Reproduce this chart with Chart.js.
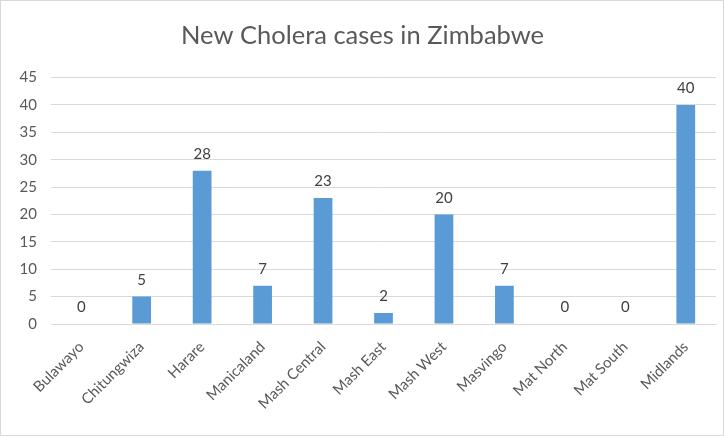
<!DOCTYPE html>
<html>
<head>
<meta charset="utf-8">
<script src="https://cdn.jsdelivr.net/npm/chart.js@4.4.0/dist/chart.umd.min.js"></script>
<style>
    html, body { margin: 0; padding: 0; background: #fff; }
    .frame {
        width: 722px;
        height: 434px;
        border: 1px solid #d9d9d9;
        position: relative;
    }
</style>
</head>
<body>
<div class="frame">
    <canvas id="choleraChart" width="722" height="434"></canvas>
</div>
<script>
    // Chart data
    const provinces = ['Bulawayo', 'Chitungwiza', 'Harare', 'Manicaland', 'Mash Central', 'Mash East',
        'Mash West', 'Masvingo', 'Mat North', 'Mat South', 'Midlands'];
    const newCases = [0, 5, 28, 7, 23, 2, 20, 7, 0, 0, 40];
    const yTicks = [0, 5, 10, 15, 20, 25, 30, 35, 40, 45];

    const fontFamily = 'Lato, "Open Sans", sans-serif';

    // Draw value above each bar
    const barLabels = {
        id: 'barLabels',
        afterDatasetsDraw(chart) {
            const ctx = chart.ctx;
            const meta = chart.getDatasetMeta(0);
            ctx.save();
            ctx.font = '15px ' + fontFamily;
            ctx.fillStyle = '#404040';
            ctx.textAlign = 'center';
            ctx.textBaseline = 'bottom';
            meta.data.forEach((bar, i) => {
                ctx.fillText(String(newCases[i]), bar.x, bar.y - 9);
            });
            ctx.restore();
        }
    };

    new Chart(document.getElementById('choleraChart'), {
        type: 'bar',
        data: {
            labels: provinces,
            datasets: [{
                data: newCases,
                backgroundColor: '#5B9BD5',
                borderWidth: 0,
                barPercentage: 0.62,
                categoryPercentage: 0.5
            }]
        },
        options: {
            responsive: false,
            animation: false,
            layout: {
                padding: { left: 8, right: 7, top: 0, bottom: 0 }
            },
            plugins: {
                legend: { display: false },
                tooltip: { enabled: false },
                title: {
                    display: true,
                    text: 'New Cholera cases in Zimbabwe',
                    color: '#595959',
                    font: { family: fontFamily, size: 25.5, weight: 'normal' },
                    padding: { top: 19, bottom: 27 }
                }
            },
            scales: {
                x: {
                    grid: { display: false },
                    border: { display: true, color: '#d9d9d9' },
                    ticks: {
                        color: '#595959',
                        font: { family: fontFamily, size: 15 },
                        minRotation: 45,
                        maxRotation: 45,
                        padding: 6
                    },
                    afterFit(scale) { scale.height = 111; }
                },
                y: {
                    min: 0,
                    max: 45,
                    grid: { color: '#d9d9d9', drawTicks: false },
                    border: { display: false },
                    afterBuildTicks(scale) { scale.ticks = yTicks.map(v => ({ value: v })); },
                    ticks: {
                        color: '#595959',
                        font: { family: fontFamily, size: 15 },
                        padding: 14
                    },
                    afterFit(scale) { scale.width = 42; }
                }
            }
        },
        plugins: [barLabels]
    });
</script>
</body>
</html>
